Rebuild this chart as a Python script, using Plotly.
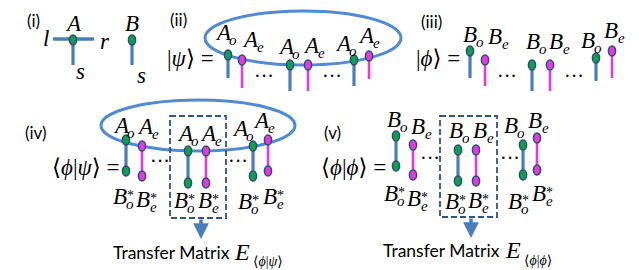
import plotly.graph_objects as go

W, H = 639, 270
LEG_BLUE = "#4a7ebb"
RING = "#4f8ad2"
MAG = "#e23ce0"
GREEN = "#0e9f4f"
EDGE = "#2e4a78"
DASH = "#2f5487"
SERIF = "Liberation Serif, DejaVu Serif, serif"
SANS = "Lato, Liberation Sans, sans-serif"
PHI = "ϕ"

# ---------------- data (diagram geometry) ----------------
panel_labels = ["(i)", "(ii)", "(iii)", "(iv)", "(v)"]
panel_label_x = [25, 170, 423, 28, 324]
panel_label_y = [12, 11, 13, 124, 124]

# (i) single tensors
i_names = ["A", "B"]
i_node_x = [65, 124]
i_node_y = [32, 32]
i_leg_end = [57, 57]

# (ii) |psi>
ii_kind = ["o", "e", "o", "e", "o", "e"]
ii_x = [220, 234, 282, 300, 346, 361]
ii_y = [47, 52, 57, 57, 52, 48]
ii_end = [70, 80, 83, 83, 78, 71]
ii_lx = [215, 242, 278, 303, 335, 358]
ii_ly = [24, 31, 38, 37, 35, 27]
ii_dots_x = [256, 324]

# (iii) |phi>
iii_x = [462, 477, 524, 542, 588, 604]
iii_y = [43, 52, 57, 57, 50, 43]
iii_end = [70, 78, 83, 83, 73, 70]
iii_lx = [462, 487, 525, 548, 580, 603]
iii_ly = [26, 28, 33, 33, 32, 22]
iii_dots_x = [499, 566]

# (iv) <phi|psi>
iv_x = [118, 134, 180, 198, 245, 260]
iv_top = [132, 138, 143, 143, 138, 132]
iv_bot = [163, 168, 175, 175, 168, 163]
iv_tlx = [113, 137, 177, 200, 232, 253]
iv_tly = [117, 118, 125, 125, 120, 112]
iv_blx = [112, 135, 173, 197, 237, 262]
iv_bly = [188, 191, 192, 192, 193, 188]
iv_dots_x = [152, 230]

# (v) <phi|phi>
v_x = [388, 405, 450, 468, 515, 529]
v_top = [128, 137, 142, 142, 137, 130]
v_bot = [158, 167, 173, 173, 167, 162]
v_tlx = [386, 410, 448, 472, 503, 527]
v_tly = [111, 118, 122, 122, 117, 112]
v_blx = [383, 406, 444, 467, 507, 531]
v_bly = [185, 190, 193, 192, 193, 185]
v_dots_x = [422, 502]

kinds = ["o", "e", "o", "e", "o", "e"]

# ---------------- drawing helpers ----------------
fig = go.Figure()
fig.add_trace(go.Scatter(x=[], y=[], mode="markers", hoverinfo="skip"))
rings, lines, legs, nodes, boxes = [], [], [], [], []
ann = []


def text(x, y, s, size=23, family=SERIF, italic=True, color="black", xanchor="center"):
    ann.append(dict(x=x, y=y, xref="x", yref="y", text=(f"<i>{s}</i>" if italic else s),
                    showarrow=False, font=dict(family=family, size=size, color=color),
                    xanchor=xanchor, yanchor="middle", borderpad=0))


def node(x, y, kind):
    fill = GREEN if kind == "o" else MAG
    nodes.append(dict(type="circle", xref="x", yref="y", x0=x - 3.6, x1=x + 3.6,
                      y0=y - 5, y1=y + 5, fillcolor=fill,
                      line=dict(color=EDGE, width=1.5), layer="above"))


def leg(x, y0, y1, kind):
    col = LEG_BLUE if kind == "o" else MAG
    w = 3.2 if kind == "o" else 2.6
    legs.append(dict(type="line", xref="x", yref="y", x0=x, x1=x, y0=y0, y1=y1,
                     line=dict(color=col, width=w), layer="above"))


def ring(x0, x1, y0, y1):
    rings.append(dict(type="circle", xref="x", yref="y", x0=x0, x1=x1, y0=y0, y1=y1,
                      line=dict(color=RING, width=3), layer="above"))


def label(x, y, base, sub, star=False):
    text(x, y, base, size=23)
    text(x + 10, y + 8, sub, size=15)
    if star:
        text(x + 10, y - 1, "*", size=14, italic=False)


def dots(x, y):
    text(x, y, "···", size=20, italic=False)


def bra_ket(x, y, s, size=23):
    text(x, y, s, size=size, italic=False)


# ---------------- panel labels ----------------
for s, x, y in zip(panel_labels, panel_label_x, panel_label_y):
    text(x, y, s, size=17, family=SANS, italic=False)

# ---------------- (i) ----------------
lines.append(dict(type="line", xref="x", yref="y", x0=45, x1=86, y0=31, y1=31,
                  line=dict(color=LEG_BLUE, width=3.5), layer="above"))
for nm, x, y, e in zip(i_names, i_node_x, i_node_y, i_leg_end):
    leg(x, y, e, "o")
    node(x, y, "o")
    text(x, 15, nm)
text(38, 30, "l")
text(97, 33, "r")
text(72, 63, "s")
text(133, 67, "s")

# ---------------- (ii) ----------------
bra_ket(182, 50, "|<i>ψ</i>⟩ =")
ring(197, 393, 3, 57)
for k, x, y, e, lx, ly in zip(ii_kind, ii_x, ii_y, ii_end, ii_lx, ii_ly):
    leg(x, y, e, k)
    node(x, y, k)
    label(lx, ly, "A", k)
for dx in ii_dots_x:
    dots(dx, 68)

# ---------------- (iii) ----------------
bra_ket(430, 50, f"|<i>{PHI}</i>⟩ =")
for k, x, y, e, lx, ly in zip(kinds, iii_x, iii_y, iii_end, iii_lx, iii_ly):
    leg(x, y, e, k)
    node(x, y, k)
    label(lx, ly, "B", k)
for dx in iii_dots_x:
    dots(dx, 68)

# ---------------- (iv) ----------------
bra_ket(78, 159, f"⟨<i>{PHI}</i>|<i>ψ</i>⟩ =")
ring(93, 287, 92, 143)
for k, x, t, b, tx, ty, bx, by in zip(kinds, iv_x, iv_top, iv_bot, iv_tlx, iv_tly, iv_blx, iv_bly):
    leg(x, t, b, k)
    node(x, t, k)
    node(x, b, k)
    label(tx, ty, "A", k)
    label(bx, by, "B", k, star=True)
for dx in iv_dots_x:
    dots(dx, 153)
boxes.append(dict(type="rect", xref="x", yref="y", x0=162, x1=218, y0=108, y1=210,
                  line=dict(color=DASH, width=1.8, dash="6px,3px"), layer="above"))
ann.append(dict(x=193, y=231, ax=193, ay=210, xref="x", yref="y", axref="x", ayref="y",
                showarrow=True, arrowhead=2, arrowsize=0.9, arrowwidth=3.5,
                arrowcolor=LEG_BLUE, text=""))
text(163, 244, "Transfer Matrix", size=17.5, family=SANS, italic=False)
text(234, 244, "E", size=24)
text(260, 253, f"⟨<i>{PHI}</i>|<i>ψ</i>⟩", size=14, italic=False)

# ---------------- (v) ----------------
bra_ket(345, 159, f"⟨<i>{PHI}</i>|<i>{PHI}</i>⟩ =")
for k, x, t, b, tx, ty, bx, by in zip(kinds, v_x, v_top, v_bot, v_tlx, v_tly, v_blx, v_bly):
    leg(x, t, b, k)
    node(x, t, k)
    node(x, b, k)
    label(tx, ty, "B", k)
    label(bx, by, "B", k, star=True)
for dx in v_dots_x:
    dots(dx, 150)
boxes.append(dict(type="rect", xref="x", yref="y", x0=432, x1=489, y0=108, y1=209,
                  line=dict(color=DASH, width=1.8, dash="6px,3px"), layer="above"))
ann.append(dict(x=463, y=230, ax=463, ay=209, xref="x", yref="y", axref="x", ayref="y",
                showarrow=True, arrowhead=2, arrowsize=0.9, arrowwidth=3.5,
                arrowcolor=LEG_BLUE, text=""))
text(433, 242, "Transfer Matrix", size=17.5, family=SANS, italic=False)
text(505, 242, "E", size=24)
text(530, 252, f"⟨<i>{PHI}</i>|<i>{PHI}</i>⟩", size=14, italic=False)

fig.update_layout(
    width=W, height=H,
    margin=dict(l=0, r=0, t=0, b=0),
    paper_bgcolor="white", plot_bgcolor="white",
    xaxis=dict(range=[0, W], visible=False, fixedrange=True),
    yaxis=dict(range=[H, 0], visible=False, fixedrange=True),
    shapes=rings + lines + legs + nodes + boxes,
    annotations=ann,
    showlegend=False,
)
fig.write_html("out.html")
